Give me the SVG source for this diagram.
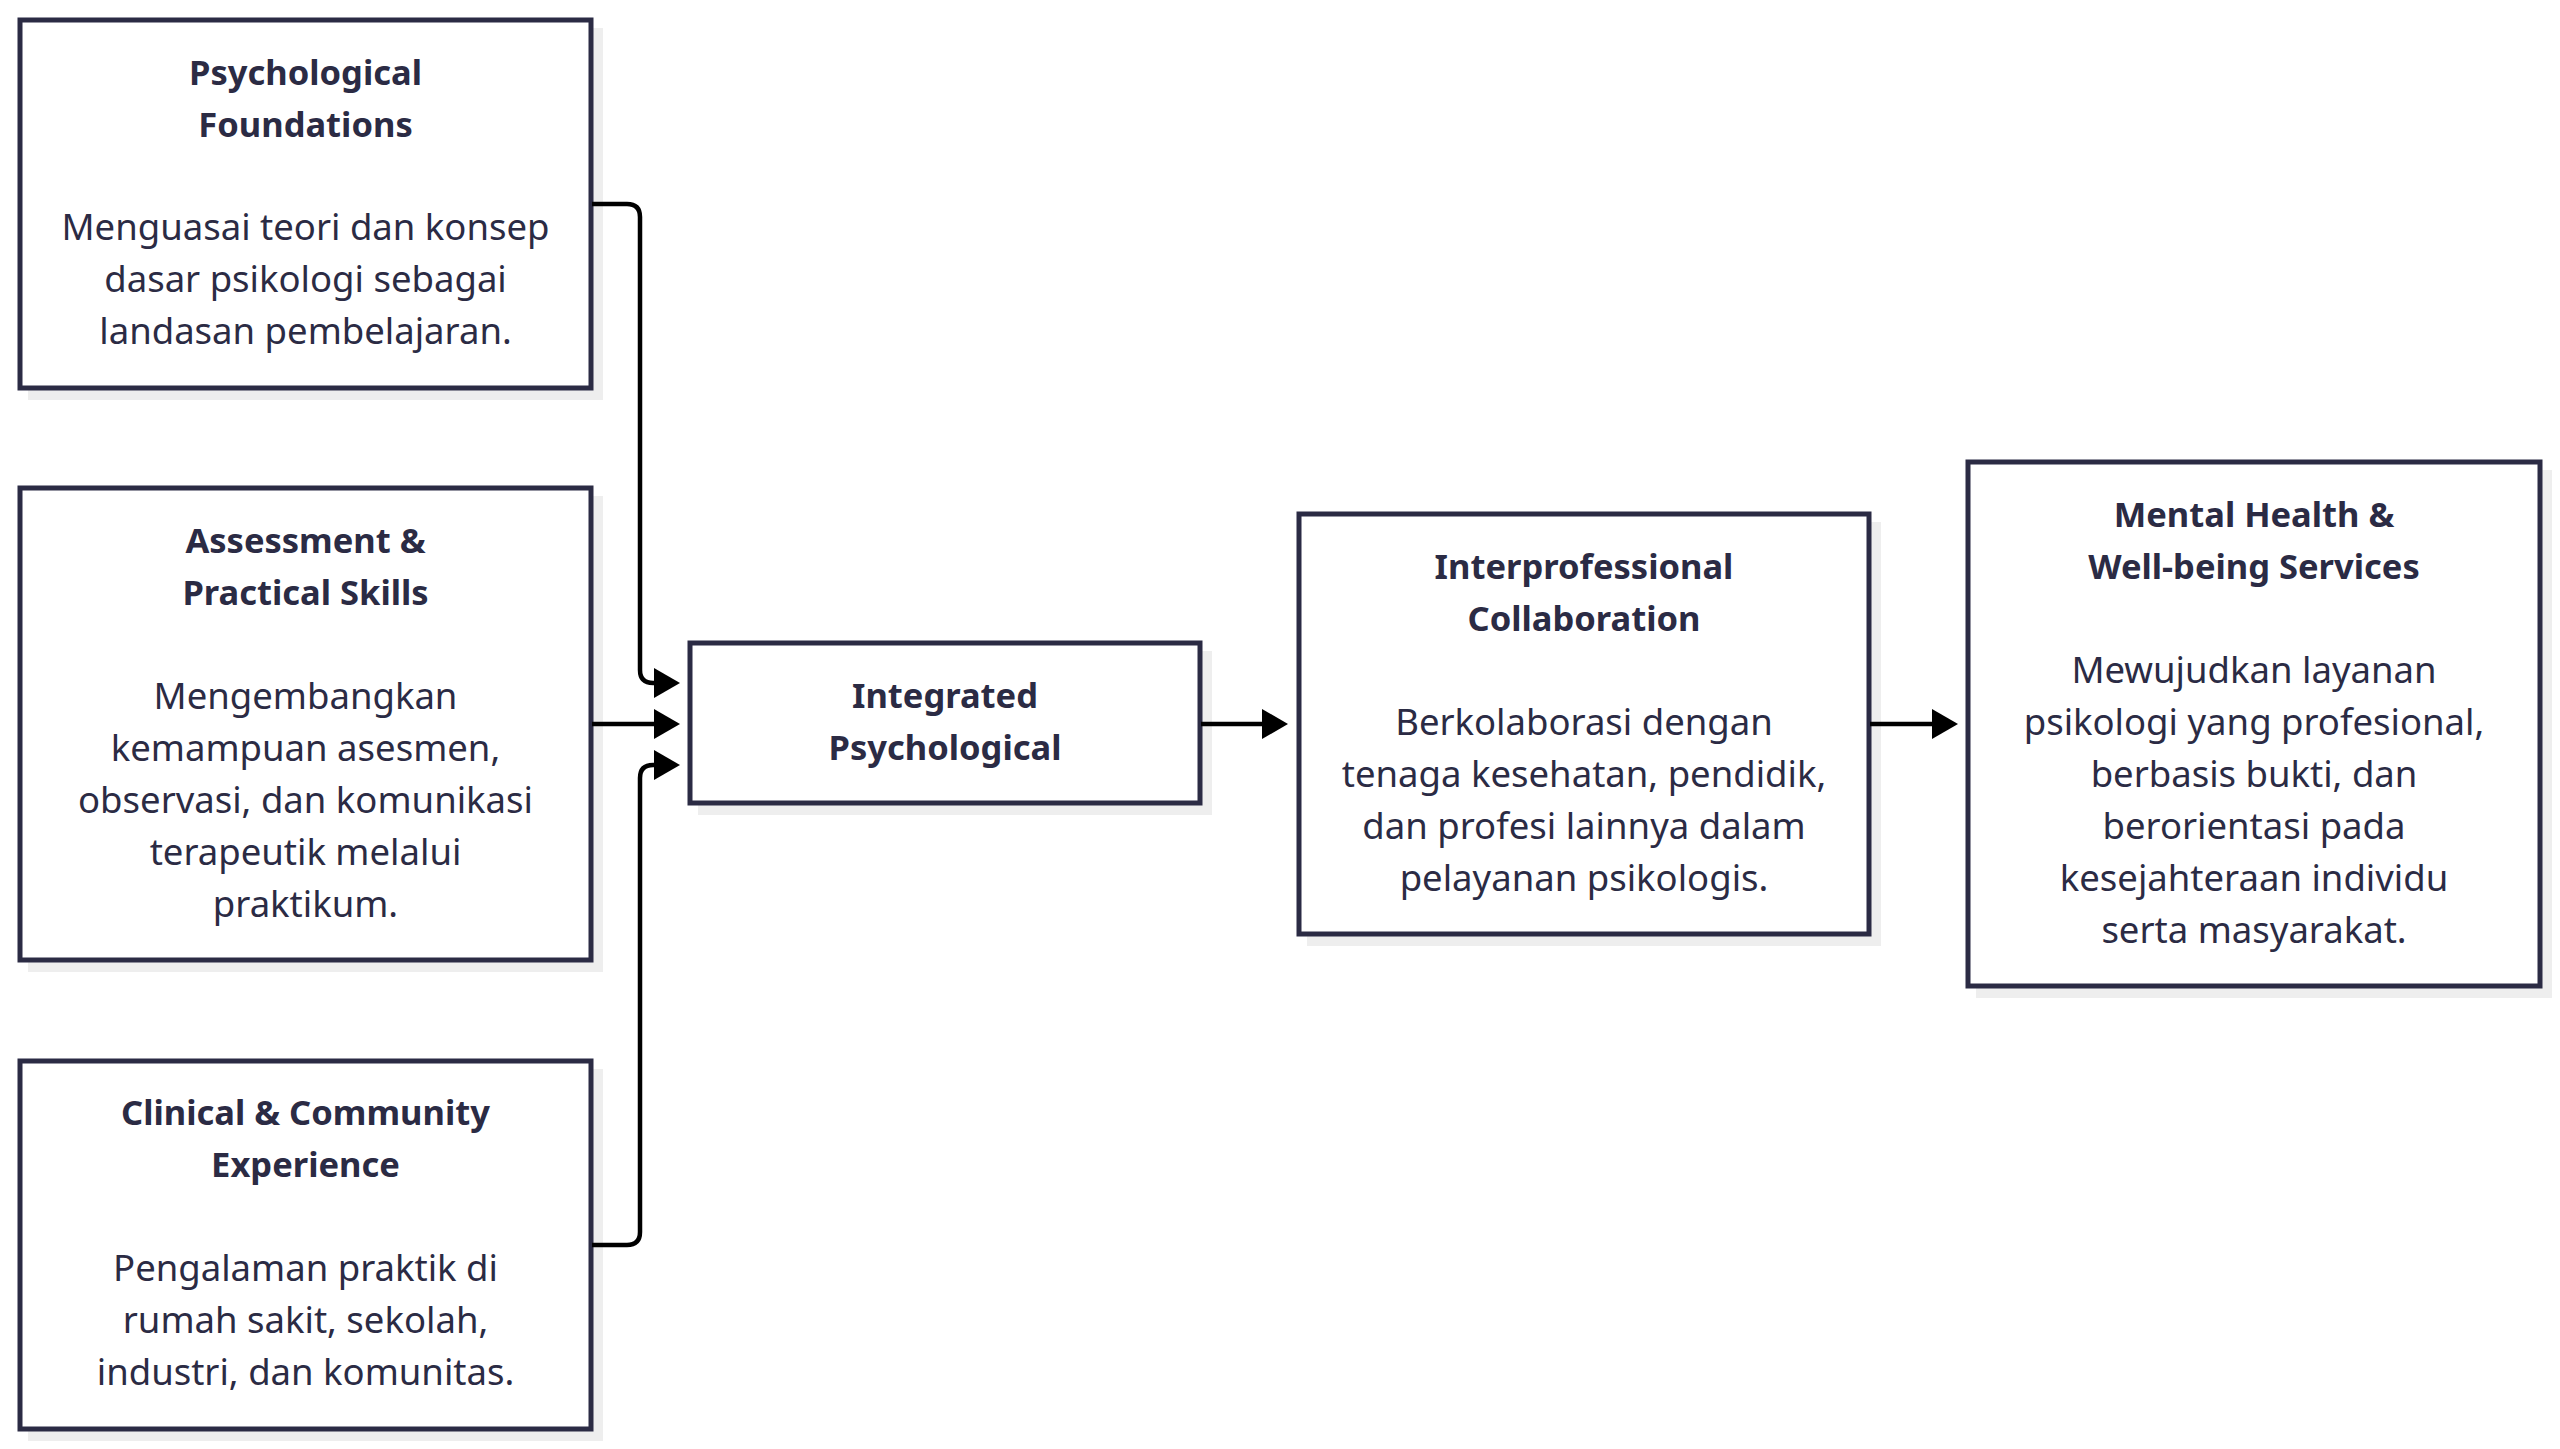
<svg xmlns="http://www.w3.org/2000/svg" width="2560" height="1449" viewBox="0 0 2560 1449">
<defs>
<style>
.box{fill:#ffffff;stroke:#2b2b44;stroke-width:5}
.shadow{fill:#eeeeee}
.t{font-family:"Noto Sans","DejaVu Sans",sans-serif;font-size:34.5px;font-weight:700;fill:#2b2b44;text-anchor:middle}
.b{font-family:"Noto Sans","DejaVu Sans",sans-serif;font-size:36.5px;font-weight:400;fill:#2b2b44;text-anchor:middle}
.c{fill:none;stroke:#000000;stroke-width:4.5}
</style>
<marker id="arr" markerUnits="userSpaceOnUse" markerWidth="26" markerHeight="30" viewBox="0 0 26 30" refX="0" refY="15" orient="auto">
<path d="M0,0 L26,15 L0,30 Z" fill="#000000"/>
</marker>
</defs>
<rect width="2560" height="1449" fill="#ffffff"/>

<g id="node-foundations">
<rect class="shadow" x="28" y="28" width="575" height="372"/>
<rect class="box" x="20" y="20" width="571" height="368"/>
<text class="t" x="305.5" y="85">Psychological</text>
<text class="t" x="305.5" y="137">Foundations</text>
<text class="b" x="305.5" y="240">Menguasai teori dan konsep</text>
<text class="b" x="305.5" y="292">dasar psikologi sebagai</text>
<text class="b" x="305.5" y="344">landasan pembelajaran.</text>
</g>

<g id="node-assessment">
<rect class="shadow" x="28" y="496" width="575" height="476"/>
<rect class="box" x="20" y="488" width="571" height="472"/>
<text class="t" x="305.5" y="553">Assessment &amp;</text>
<text class="t" x="305.5" y="605">Practical Skills</text>
<text class="b" x="305.5" y="709">Mengembangkan</text>
<text class="b" x="305.5" y="761">kemampuan asesmen,</text>
<text class="b" x="305.5" y="813">observasi, dan komunikasi</text>
<text class="b" x="305.5" y="865">terapeutik melalui</text>
<text class="b" x="305.5" y="917">praktikum.</text>
</g>

<g id="node-clinical">
<rect class="shadow" x="28" y="1069" width="575" height="372"/>
<rect class="box" x="20" y="1061" width="571" height="368"/>
<text class="t" x="305.5" y="1125">Clinical &amp; Community</text>
<text class="t" x="305.5" y="1177">Experience</text>
<text class="b" x="305.5" y="1281">Pengalaman praktik di</text>
<text class="b" x="305.5" y="1333">rumah sakit, sekolah,</text>
<text class="b" x="305.5" y="1385">industri, dan komunitas.</text>
</g>

<g id="node-integrated">
<rect class="shadow" x="698" y="651" width="514" height="164"/>
<rect class="box" x="690" y="643" width="510" height="160"/>
<text class="t" x="945" y="708">Integrated</text>
<text class="t" x="945" y="760">Psychological</text>
</g>

<g id="node-interprofessional">
<rect class="shadow" x="1307" y="522" width="574" height="424"/>
<rect class="box" x="1299" y="514" width="570" height="420"/>
<text class="t" x="1584" y="579">Interprofessional</text>
<text class="t" x="1584" y="631">Collaboration</text>
<text class="b" x="1584" y="735">Berkolaborasi dengan</text>
<text class="b" x="1584" y="787">tenaga kesehatan, pendidik,</text>
<text class="b" x="1584" y="839">dan profesi lainnya dalam</text>
<text class="b" x="1584" y="891">pelayanan psikologis.</text>
</g>

<g id="node-mental-health">
<rect class="shadow" x="1976" y="470" width="576" height="528"/>
<rect class="box" x="1968" y="462" width="572" height="524"/>
<text class="t" x="2254" y="527">Mental Health &amp;</text>
<text class="t" x="2254" y="579">Well-being Services</text>
<text class="b" x="2254" y="683">Mewujudkan layanan</text>
<text class="b" x="2254" y="735">psikologi yang profesional,</text>
<text class="b" x="2254" y="787">berbasis bukti, dan</text>
<text class="b" x="2254" y="839">berorientasi pada</text>
<text class="b" x="2254" y="891">kesejahteraan individu</text>
<text class="b" x="2254" y="943">serta masyarakat.</text>
</g>

<g id="connectors">
<path class="c" d="M592,204 H627 Q640,204 640,217 V670 Q640,683 653,683 H654" marker-end="url(#arr)"/>
<path class="c" d="M592,724 H654" marker-end="url(#arr)"/>
<path class="c" d="M592,1245 H627 Q640,1245 640,1232 V778 Q640,765 653,765 H654" marker-end="url(#arr)"/>
<path class="c" d="M1201,724 H1262" marker-end="url(#arr)"/>
<path class="c" d="M1870,724 H1932" marker-end="url(#arr)"/>
</g>
</svg>
